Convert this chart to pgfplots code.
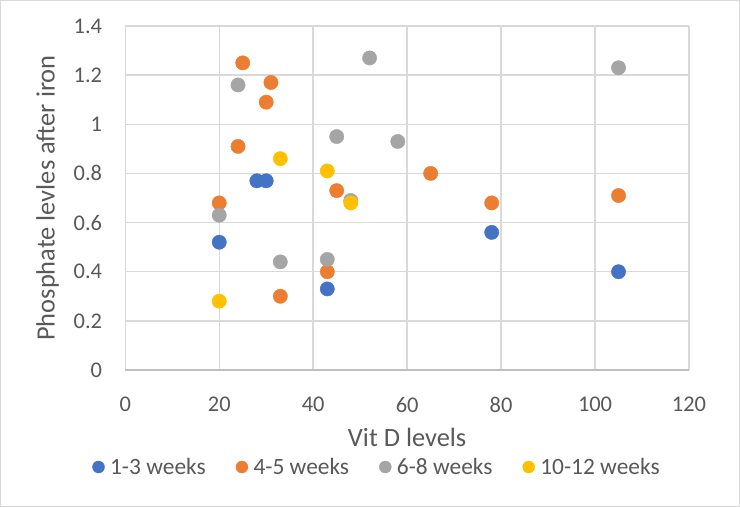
\documentclass[border=0pt]{standalone}
\usepackage{fontspec}
\setmainfont{Carlito}
\usepackage{pgfplots}
\usepackage{pgfplotstable}
\pgfplotsset{compat=1.18}

\definecolor{sBlue}{HTML}{4472C4}
\definecolor{sOrange}{HTML}{ED7D31}
\definecolor{sGray}{HTML}{A5A5A5}
\definecolor{sYellow}{HTML}{FFC000}
\definecolor{gridgray}{HTML}{D9D9D9}
\definecolor{axisgray}{HTML}{BFBFBF}
\definecolor{textgray}{HTML}{595959}

% Vit D level vs phosphate level after iron, by time since infusion
\pgfplotstableread{
x y
20 0.52
28 0.77
30 0.77
43 0.33
78 0.56
105 0.40
}\weeksA
\pgfplotstableread{
x y
20 0.68
24 0.91
25 1.25
30 1.09
31 1.17
33 0.30
43 0.40
45 0.73
65 0.80
78 0.68
105 0.71
}\weeksB
\pgfplotstableread{
x y
20 0.63
24 1.16
33 0.44
43 0.45
45 0.95
48 0.69
52 1.27
58 0.93
105 1.23
}\weeksC
\pgfplotstableread{
x y
20 0.28
33 0.86
43 0.81
48 0.68
}\weeksD

\begin{document}
\begin{tikzpicture}
\useasboundingbox (0,0) rectangle (740bp,507bp);
\draw[draw=gridgray, line width=1bp, fill=white] (0.5bp,0.5bp) rectangle (739.5bp,506.5bp);
\begin{axis}[
  at={(125.3bp,137bp)}, anchor=south west,
  width=563.7bp, height=344bp, scale only axis,
  xmin=0, xmax=120, ymin=0, ymax=1.4,
  xtick={0,20,40,60,80,100,120},
  xticklabels={0,20,40,60,80,100,120},
  ytick={0,0.2,0.4,0.6,0.8,1,1.2,1.4},
  yticklabels={0,0.2,0.4,0.6,0.8,1,1.2,1.4},
  grid=major,
  major grid style={draw=gridgray, line width=1.5bp},
  axis line style={draw=none},
  major tick length=0pt,
  clip=false,
  tick label style={font=\fontsize{22.5}{27}\selectfont, text=textgray, inner sep=0pt},
  yticklabel style={anchor=east, xshift=-23bp},
  xticklabel style={anchor=north, yshift=-26.7bp},
  xlabel={Vit D levels},
  ylabel={Phosphate levles after iron},
  label style={font=\fontsize{26.5}{31}\selectfont, text=textgray, inner sep=0pt},
  xlabel style={at={(axis description cs:0.5,-0.223)}, anchor=base},
  ylabel style={at={(axis description cs:-0.1377,0.5)}, anchor=center, rotate=0},
  legend columns=4,
  legend style={at={(0.4447,-0.282)}, anchor=center, draw=none, fill=none,
    inner sep=0pt, font=\fontsize{23.5}{28}\selectfont, text=textgray,
    nodes={inner sep=0pt},
    /tikz/every odd column/.append style={column sep=5.4bp},
    /tikz/every even column/.append style={column sep=30bp}},
  legend image code/.code={\fill[#1] (0bp,0bp) circle (6bp);},
]
\draw[draw=axisgray, line width=1.5bp] (axis cs:0,0) -- (axis cs:120,0);
\addplot[only marks, mark=*, mark size=7.15bp, color=sBlue, mark options={draw=sBlue, fill=sBlue}] table {\weeksA};
\addlegendentry{1-3 weeks}
\addplot[only marks, mark=*, mark size=7.15bp, color=sOrange, mark options={draw=sOrange, fill=sOrange}] table {\weeksB};
\addlegendentry{4-5 weeks}
\addplot[only marks, mark=*, mark size=7.15bp, color=sGray, mark options={draw=sGray, fill=sGray}] table {\weeksC};
\addlegendentry{6-8 weeks}
\addplot[only marks, mark=*, mark size=7.15bp, color=sYellow, mark options={draw=sYellow, fill=sYellow}] table {\weeksD};
\addlegendentry{10-12 weeks}
\end{axis}
\end{tikzpicture}
\end{document}
